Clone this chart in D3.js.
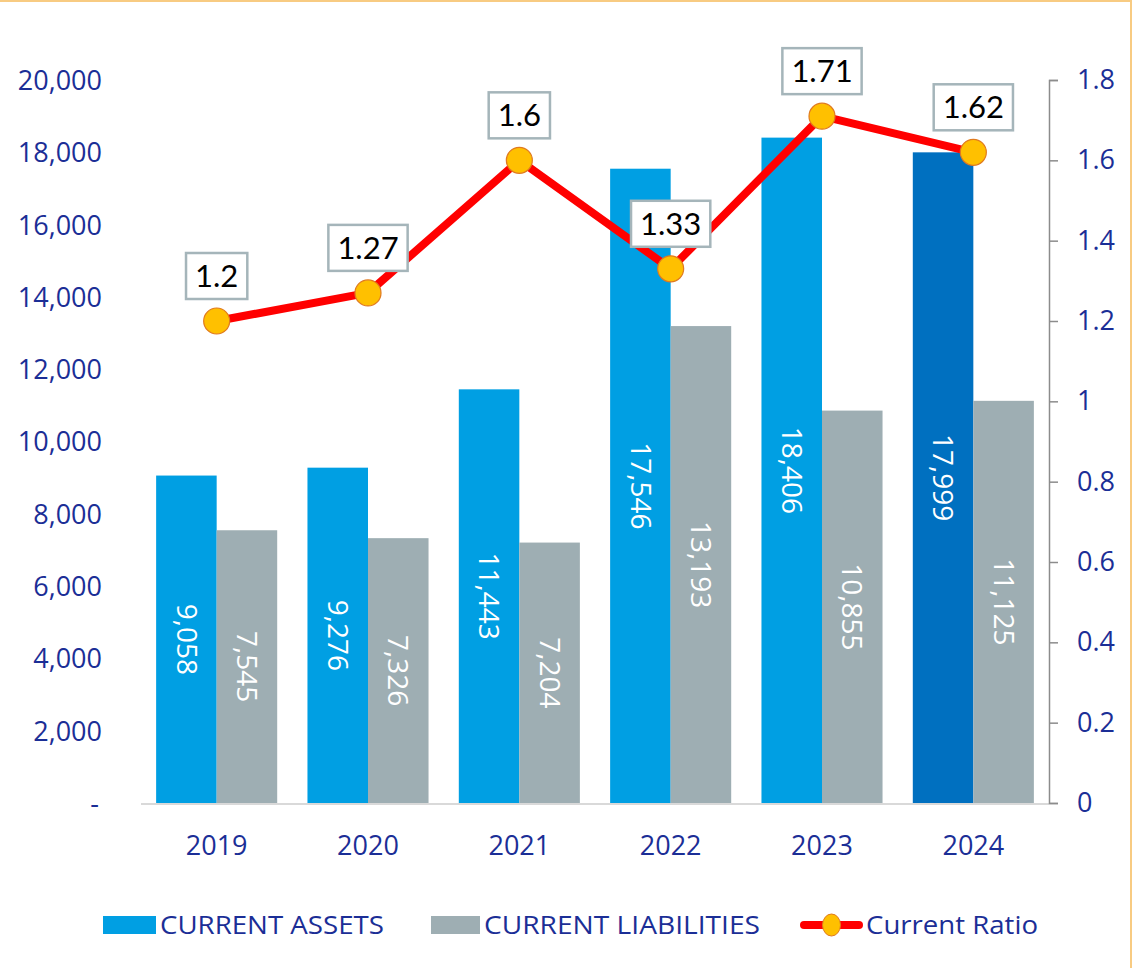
<!DOCTYPE html>
<html>
<head>
<meta charset="utf-8">
<script src="https://cdn.jsdelivr.net/npm/d3@7"></script>
<style>
  body { margin: 0; background: #fff; }
  svg { display: block; font-family: "Open Sans", sans-serif; }
</style>
</head>
<body>
<div id="chart"></div>
<script>
// Chart data
const years = ["2019", "2020", "2021", "2022", "2023", "2024"];
const currentAssets = [9058, 9276, 11443, 17546, 18406, 17999];
const currentLiabilities = [7545, 7326, 7204, 13193, 10855, 11125];
const currentRatio = [1.2, 1.27, 1.6, 1.33, 1.71, 1.62];
const leftTicks = [0, 2000, 4000, 6000, 8000, 10000, 12000, 14000, 16000, 18000, 20000];
const rightTicks = [0, 0.2, 0.4, 0.6, 0.8, 1, 1.2, 1.4, 1.6, 1.8];
const legendLabels = ["CURRENT ASSETS", "CURRENT LIABILITIES", "Current Ratio"];

const W = 1133, H = 968;
const plot = { left: 141, right: 1049, top: 80, bottom: 803 };
const axisBlue = "#1B2E96";
const font = "'Open Sans', sans-serif";

const svg = d3.select("#chart").append("svg")
    .attr("width", W)
    .attr("height", H);

// frame
svg.append("rect")
    .attr("x", -2).attr("y", 1)
    .attr("width", 1133).attr("height", H + 5)
    .attr("fill", "none")
    .attr("stroke", "#F8CB82")
    .attr("stroke-width", 2);

// Scales
const x = d3.scaleBand().domain(years).range([plot.left, plot.right]).paddingInner(0.2).paddingOuter(0.1);
const x0 = d3.scaleBand().domain(years).range([plot.left, plot.right]);
const y = d3.scaleLinear().domain([0, 20000]).range([plot.bottom, plot.top]);
const y2 = d3.scaleLinear().domain([0, 1.8]).range([plot.bottom, plot.top]);
const fmt = d3.format(",");

// Left axis (labels only)
const leftAxis = d3.axisLeft(y)
    .tickValues(leftTicks)
    .tickSize(0)
    .tickPadding(0)
    .tickFormat(d => d === 0 ? "-" : fmt(d));
const gl = svg.append("g").attr("transform", "translate(102,0)").call(leftAxis);
gl.attr("font-family", font);
gl.select(".domain").remove();
gl.selectAll("text")
    .attr("fill", axisBlue)
    .style("font-size", "27px")
    .attr("dy", "0.35em");
gl.selectAll(".tick").filter(d => d === 0).select("text").attr("dx", "-3px");

// Bars
const half = x.bandwidth() / 2;
const groups = svg.append("g").selectAll("g")
    .data(years)
    .join("g");

groups.append("rect")
    .attr("x", d => x(d))
    .attr("y", (d, i) => y(currentAssets[i]))
    .attr("width", half)
    .attr("height", (d, i) => plot.bottom - y(currentAssets[i]))
    .attr("fill", (d, i) => i === years.length - 1 ? "#0070C0" : "#009FE3");

groups.append("rect")
    .attr("x", d => x(d) + half)
    .attr("y", (d, i) => y(currentLiabilities[i]))
    .attr("width", half)
    .attr("height", (d, i) => plot.bottom - y(currentLiabilities[i]))
    .attr("fill", "#9EAEB3");

// value labels, rotated
function barLabel(vals, offset) {
    groups.append("text")
        .attr("transform", (d, i) => {
            const cx = x(d) + offset + half / 2;
            const cy = (y(vals[i]) + plot.bottom) / 2;
            return `translate(${cx},${cy}) rotate(90)`;
        })
        .attr("text-anchor", "middle")
        .attr("dy", "0.35em")
        .attr("fill", "#fff")
        .style("font-size", "28px")
        .text((d, i) => fmt(vals[i]));
}
barLabel(currentAssets, 0);
barLabel(currentLiabilities, half);

// baseline
svg.append("line")
    .attr("x1", plot.left).attr("x2", plot.right)
    .attr("y1", plot.bottom + 1).attr("y2", plot.bottom + 1)
    .attr("stroke", "#D9D9D9").attr("stroke-width", 2);

// Right axis
const rightAxis = d3.axisRight(y2)
    .tickValues(rightTicks)
    .tickSize(9)
    .tickPadding(19)
    .tickFormat(d => d3.format("~g")(d));
const gr = svg.append("g").attr("transform", `translate(${plot.right},0)`).call(rightAxis);
gr.attr("font-family", font);
gr.select(".domain").attr("stroke", "#8C8C8C").attr("stroke-width", 1.5);
gr.selectAll(".tick line").attr("stroke", "#8C8C8C").attr("stroke-width", 1.5);
gr.selectAll("text")
    .attr("fill", axisBlue)
    .style("font-size", "27px");

// X labels
svg.append("g").selectAll("text")
    .data(years)
    .join("text")
    .attr("x", d => x0(d) + x0.bandwidth() / 2)
    .attr("y", 855)
    .attr("text-anchor", "middle")
    .attr("fill", axisBlue)
    .style("font-size", "27px")
    .text(d => d);

// Ratio line
const cx = d => x0(d) + x0.bandwidth() / 2;
const line = d3.line()
    .x((d, i) => cx(years[i]))
    .y(d => y2(d));
svg.append("path")
    .datum(currentRatio)
    .attr("d", line)
    .attr("fill", "none")
    .attr("stroke", "#FF0000")
    .attr("stroke-width", 8)
    .attr("stroke-linejoin", "round");

svg.append("g").selectAll("circle")
    .data(currentRatio)
    .join("circle")
    .attr("cx", (d, i) => cx(years[i]))
    .attr("cy", d => y2(d))
    .attr("r", 13)
    .attr("fill", "#FFC000")
    .attr("stroke", "#E07A1F")
    .attr("stroke-width", 1.2);

// Ratio labels in boxes
const lab = svg.append("g").selectAll("g")
    .data(currentRatio)
    .join("g")
    .attr("transform", (d, i) => `translate(${cx(years[i])},${y2(d) - 45})`);
lab.append("text")
    .attr("text-anchor", "middle")
    .attr("dy", "0.35em")
    .attr("fill", "#000")
    .style("font-family", "Lato, sans-serif")
    .style("font-size", "31px")
    .text(d => d);
lab.each(function() {
    const g = d3.select(this);
    const bb = g.select("text").node().getBBox();
    g.insert("rect", "text")
        .attr("x", bb.x - 9)
        .attr("y", -23)
        .attr("width", bb.width + 18)
        .attr("height", 46)
        .attr("fill", "#fff")
        .attr("stroke", "#A5B5BA")
        .attr("stroke-width", 2.5);
});

// Legend
const legend = svg.append("g").attr("transform", "translate(0,925)");
const legendItems = [
    { x: 103, w: 53, text: 160, len: 224, type: "bar", color: "#009FE3" },
    { x: 431, w: 49, text: 484, len: 276, type: "bar", color: "#9EAEB3" },
    { x: 801, w: 61, text: 866, len: 172, type: "line" }
];
legendItems.forEach((it, i) => {
    if (it.type === "bar") {
        legend.append("rect")
            .attr("x", it.x).attr("y", -9)
            .attr("width", it.w).attr("height", 18)
            .attr("fill", it.color);
    } else {
        legend.append("line")
            .attr("x1", it.x + 3).attr("x2", it.x + it.w - 3)
            .attr("y1", 0).attr("y2", 0)
            .attr("stroke", "#FF0000").attr("stroke-width", 8)
            .attr("stroke-linecap", "round");
        legend.append("ellipse")
            .attr("cx", it.x + it.w / 2).attr("cy", 0)
            .attr("rx", 9).attr("ry", 11)
            .attr("fill", "#FFC000")
            .attr("stroke", "#E07A1F").attr("stroke-width", 1);
    }
    legend.append("text")
        .attr("x", it.text).attr("y", 0)
        .attr("dy", "0.35em")
        .attr("fill", axisBlue)
        .style("font-size", "26px")
        .attr("textLength", it.len)
        .attr("lengthAdjust", "spacingAndGlyphs")
        .text(legendLabels[i]);
});
</script>
</body>
</html>
